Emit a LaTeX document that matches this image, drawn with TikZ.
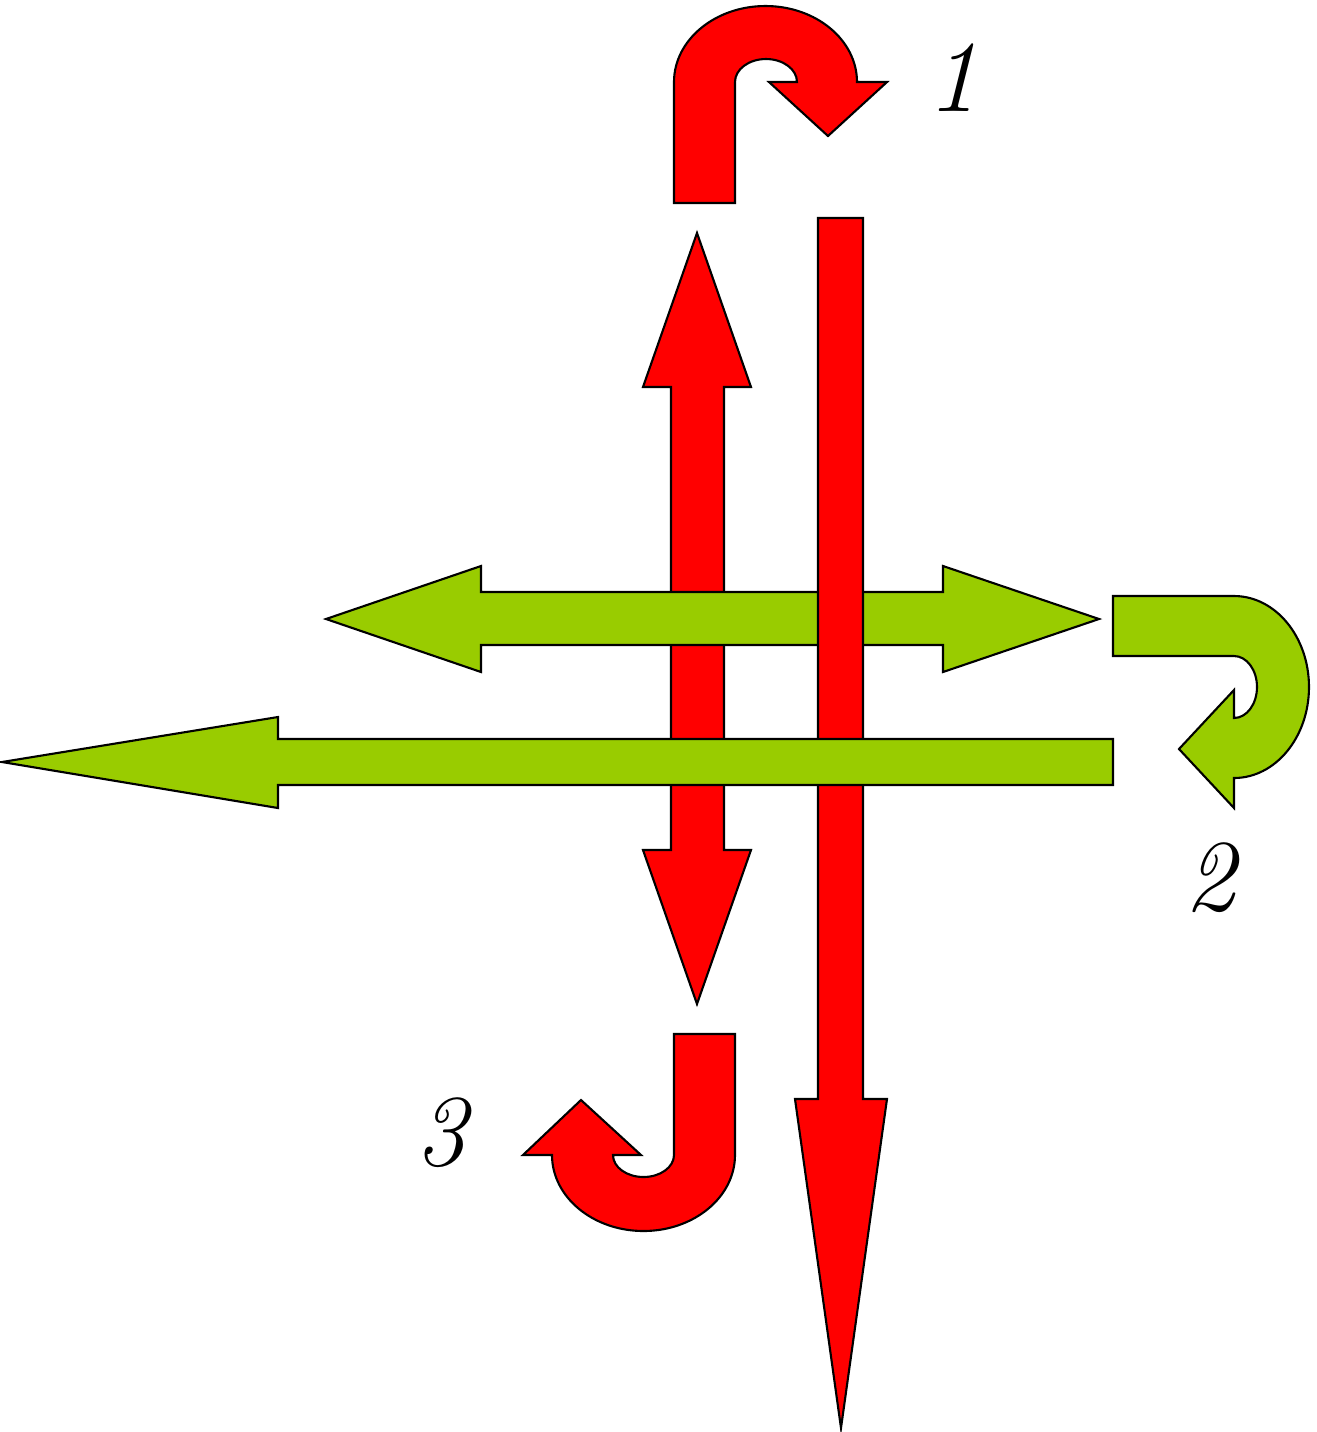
\documentclass[tikz,border=0pt]{standalone}
\usepackage{fontspec}
\usepackage{xcolor}
\usepackage{tikz}
\definecolor{turnred}{HTML}{FF0000}
\definecolor{turngreen}{HTML}{99CC00}

\begin{document}
\begin{tikzpicture}[
    x=0.01cm, y=-0.01cm,
    redarrow/.style={fill=turnred, draw=black, line width=0.6pt},
    greenarrow/.style={fill=turngreen, draw=black, line width=0.6pt},
    turnlabel/.style={font=\fontsize{29}{34}\selectfont\itshape, inner sep=0pt},
]
\useasboundingbox (0,0) rectangle (1317,1432);

% straight arrows, back to front
\draw[redarrow] (671,387) -- (643,387) -- (697,233) -- (751,387) -- (724,387)
    -- (724,850) -- (751,850) -- (697,1004) -- (643,850) -- (671,850) -- cycle;
\draw[greenarrow] (481,592) -- (481,566) -- (326,619) -- (481,672) -- (481,645)
    -- (943,645) -- (943,672) -- (1099,619) -- (943,566) -- (943,592) -- cycle;
\draw[redarrow] (818,218) -- (863,218) -- (863,1099) -- (887,1099)
    -- (841,1428) -- (795,1099) -- (818,1099) -- cycle;
\draw[greenarrow] (1113,739) -- (1113,785) -- (278,785) -- (278,808)
    -- (2,762) -- (278,717) -- (278,739) -- cycle;

% u-turn arrows
\draw[redarrow] (674,203) -- (674,82)
    arc[start angle=180, end angle=360, x radius=91.5, y radius=76]
    -- (887,82) -- (828,136) -- (769,82) -- (797,82)
    arc[start angle=360, end angle=180, x radius=31, y radius=23]
    -- (735,203) -- cycle;
\draw[greenarrow] (1113,596) -- (1234,596)
    arc[start angle=-90, end angle=90, x radius=75, y radius=91]
    -- (1234,808) -- (1179,749) -- (1234,690) -- (1234,718)
    arc[start angle=90, end angle=-90, x radius=23, y radius=31]
    -- (1113,656) -- cycle;
\draw[redarrow] (735,1034) -- (735,1155)
    arc[start angle=0, end angle=180, x radius=91.5, y radius=76]
    -- (523,1155) -- (581,1100) -- (641,1155) -- (613,1155)
    arc[start angle=180, end angle=0, x radius=30.5, y radius=22]
    -- (674,1034) -- cycle;

\foreach \name/\px/\py/\num in {labone/953/78/1, labtwo/1210/878/2, labthree/441/1133/3}
    \node[turnlabel] (\name) at (\px,\py) {\num};

\end{tikzpicture}
\end{document}
